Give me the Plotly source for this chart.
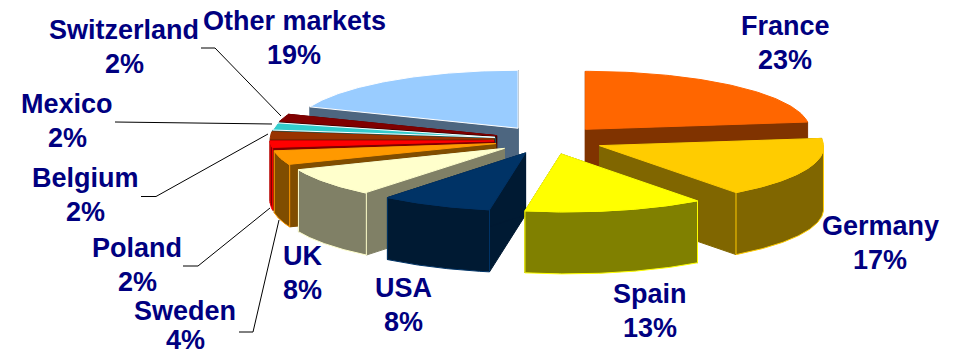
import numpy as np
import plotly.graph_objects as go

# Sales share by market, clockwise from 12 o'clock
markets = ["France", "Germany", "Spain", "USA", "UK", "Sweden", "Poland",
           "Belgium", "Mexico", "Switzerland", "Other markets"]
shares = [23, 17, 13, 8, 8, 4, 2, 2, 2, 2, 19]

top_colors = ["#FF6600", "#FFCC00", "#FFFF00", "#003366", "#FFFFCC", "#FF9900",
              "#FF0000", "#993300", "#33CCCC", "#800000", "#99CCFF"]
wall_colors = ["#803300", "#806600", "#808000", "#001A33", "#808066", "#804D00",
               "#800000", "#4D1A00", "#1A6666", "#400000", "#4D6680"]
outline_colors = ["#FF6600", "#FFCC00", "#FFFF00", "#003366", "#FFFFCC", "#FF9900",
                  "#FF0000", "#993300", "#FFFFFF", "#800000", "#FFFFFF"]

# Pie projection, in page pixels
CX, CY = 549.0, 140.0
RX, RY = 224.0, 58.0
DEPTH = 62.0
EXPLODE = 0.2455
FRONT_SHEAR = 6.0  # the near half of the rim leans right by this much

# Back-to-front paint order
paint_order = [10, 9, 8, 7, 6, 5, 4, 3, 0, 1, 2]

# Name and percentage rows are placed separately for tighter leading
FONT_SIZE = 27
label_pos = {
    "France": (785, 26, 60), "Germany": (880, 226, 260), "Spain": (650, 294, 328),
    "USA": (403, 288, 322), "UK": (302, 256, 290), "Sweden": (185, 311, 340),
    "Poland": (137, 248, 282), "Belgium": (85, 178, 212), "Mexico": (67, 104, 138),
    "Switzerland": (124, 30, 64), "Other markets": (294, 21, 55),
}
leaders = [
    [(201, 48), (215, 48), (281, 116)],
    [(115, 122), (272, 124)],
    [(141, 196.5), (156, 196.5), (268, 134)],
    [(183, 266), (198, 266), (270, 208)],
    [(239, 332), (253, 332), (279, 220)],
]

fig = go.Figure()


def face(xs, ys, fill, line):
    fig.add_trace(go.Scatter(
        x=list(xs), y=list(ys), mode="lines", fill="toself", fillcolor=fill,
        line=dict(color=line, width=1), hoverinfo="skip", showlegend=False,
    ))


def rim(ax, ay, t):
    """Screen position of the rim at clockwise angle t for a slice with apex (ax, ay)."""
    c = np.cos(t)
    return ax + RX * np.sin(t) + FRONT_SHEAR * np.maximum(0, -c), ay - RY * c


edges = np.concatenate([[0], np.cumsum(shares)]) * 3.6

for i in paint_order:
    a0, a1 = np.radians(edges[i]), np.radians(edges[i + 1])
    mid = (a0 + a1) / 2
    ax = CX + EXPLODE * RX * np.sin(mid)
    ay = CY - EXPLODE * RY * np.cos(mid)
    arc_x, arc_y = rim(ax, ay, np.linspace(a0, a1, 80))
    top, wall = top_colors[i], wall_colors[i]

    # Side walls along the two radial cuts
    for a in (a0, a1):
        ex, ey = rim(ax, ay, a)
        face([ax, ex, ex, ax, ax], [ay, ey, ey + DEPTH, ay + DEPTH, ay], wall, wall)

    # Rim, only where it faces the viewer
    lo, hi = max(a0, np.pi / 2), min(a1, 3 * np.pi / 2)
    if hi > lo:
        rx, ry = rim(ax, ay, np.linspace(lo, hi, 80))
        face(np.r_[rx, rx[::-1], rx[0]],
             np.r_[ry, ry[::-1] + DEPTH, ry[0]], wall, top)

    # Top surface
    face(np.r_[ax, arc_x, ax], np.r_[ay, arc_y, ay], top, outline_colors[i])

for pts in leaders:
    fig.add_trace(go.Scatter(
        x=[p[0] for p in pts], y=[p[1] for p in pts], mode="lines",
        line=dict(color="#000000", width=1), hoverinfo="skip", showlegend=False,
    ))

for name, share in zip(markets, shares):
    x, y_name, y_pct = label_pos[name]
    for text, y in ((name, y_name), (f"{share}%", y_pct)):
        fig.add_annotation(
            x=x, y=y, text=f"<b>{text}</b>", showarrow=False,
            xanchor="center", yanchor="middle",
            font=dict(family="Liberation Sans", size=FONT_SIZE, color="#000080"),
        )

fig.update_layout(
    width=954, height=357, margin=dict(l=0, r=0, t=0, b=0),
    paper_bgcolor="white", plot_bgcolor="white", showlegend=False,
    xaxis=dict(range=[0, 954], visible=False, fixedrange=True),
    yaxis=dict(range=[357, 0], visible=False, fixedrange=True),
)
fig.write_html("out.html", config={"displayModeBar": False})
